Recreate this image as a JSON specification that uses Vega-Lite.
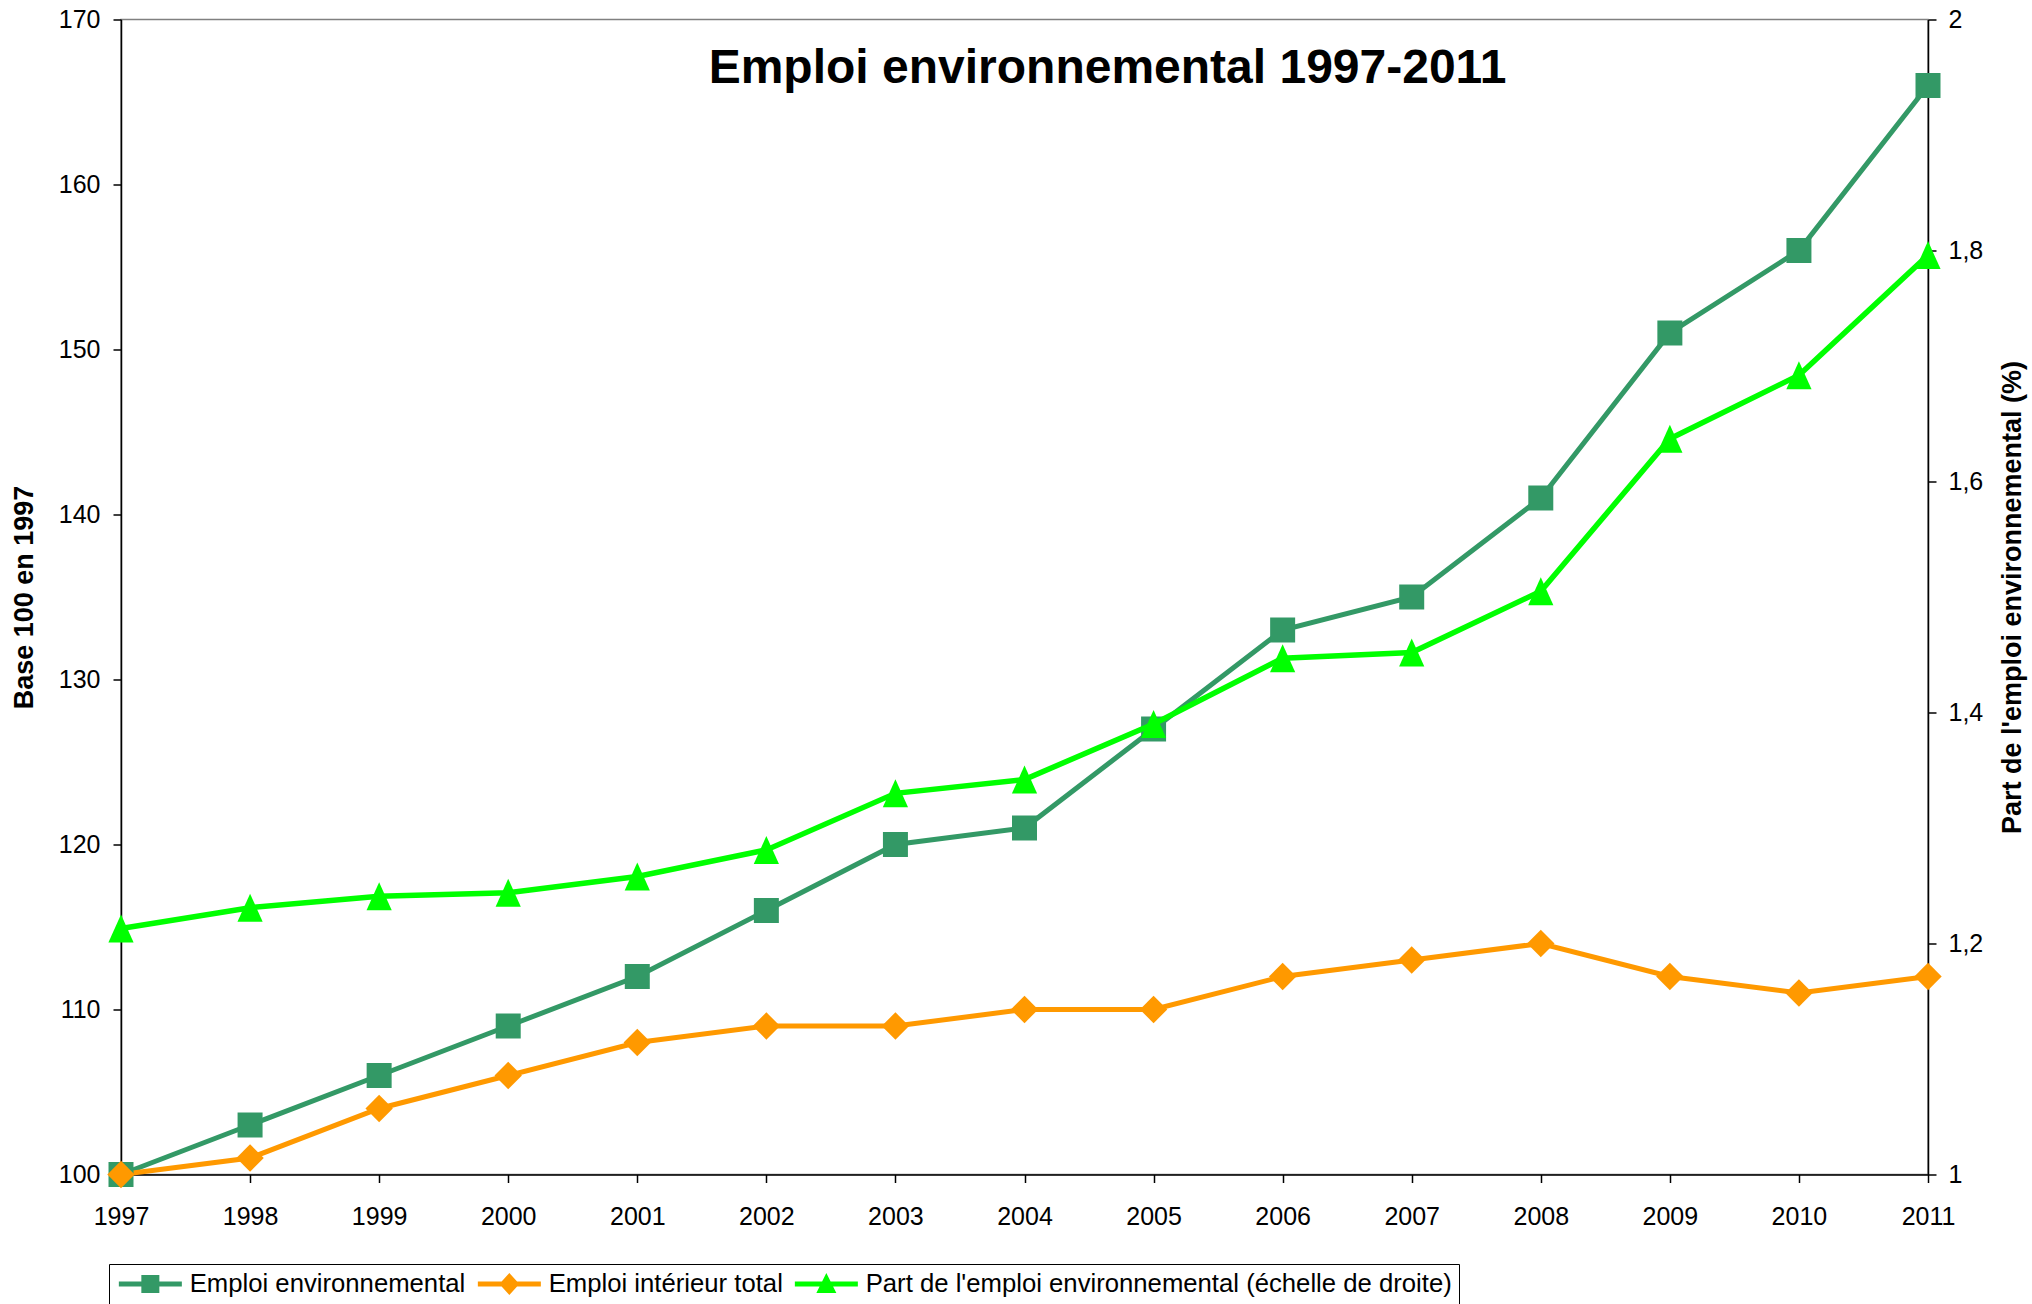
{
  "$schema": "https://vega.github.io/schema/vega-lite/v6.json",
  "width": 1807,
  "height": 1155,
  "autosize": "none",
  "padding": {"left": 121, "top": 19.5, "right": 104, "bottom": 129.5},
  "background": "white",
  "config": {
    "view": {"stroke": "#808080", "strokeWidth": 1.5},
    "font": "Liberation Sans",
    "axis": {
      "labelFont": "Liberation Sans",
      "titleFont": "Liberation Sans",
      "labelColor": "black",
      "titleColor": "black",
      "domainColor": "black",
      "tickColor": "black",
      "domainWidth": 1.5,
      "tickWidth": 1.5,
      "tickSize": 8,
      "labelFontSize": 25,
      "titleFontSize": 27,
      "titleFontWeight": "bold",
      "grid": false
    }
  },
  "title": {
    "text": "Emploi environnemental 1997-2011",
    "font": "Liberation Sans",
    "fontSize": 48,
    "fontWeight": "bold",
    "color": "black",
    "anchor": "middle",
    "frame": "group",
    "baseline": "alphabetic",
    "dx": 83,
    "dy": 47,
    "offset": -76
  },
  "data": {
    "values": [
      {"annee": 1997, "serie": "Emploi environnemental", "valeur": 100},
      {"annee": 1998, "serie": "Emploi environnemental", "valeur": 103},
      {"annee": 1999, "serie": "Emploi environnemental", "valeur": 106},
      {"annee": 2000, "serie": "Emploi environnemental", "valeur": 109},
      {"annee": 2001, "serie": "Emploi environnemental", "valeur": 112},
      {"annee": 2002, "serie": "Emploi environnemental", "valeur": 116},
      {"annee": 2003, "serie": "Emploi environnemental", "valeur": 120},
      {"annee": 2004, "serie": "Emploi environnemental", "valeur": 121},
      {"annee": 2005, "serie": "Emploi environnemental", "valeur": 127},
      {"annee": 2006, "serie": "Emploi environnemental", "valeur": 133},
      {"annee": 2007, "serie": "Emploi environnemental", "valeur": 135},
      {"annee": 2008, "serie": "Emploi environnemental", "valeur": 141},
      {"annee": 2009, "serie": "Emploi environnemental", "valeur": 151},
      {"annee": 2010, "serie": "Emploi environnemental", "valeur": 156},
      {"annee": 2011, "serie": "Emploi environnemental", "valeur": 166},
      {"annee": 1997, "serie": "Emploi intérieur total", "valeur": 100},
      {"annee": 1998, "serie": "Emploi intérieur total", "valeur": 101},
      {"annee": 1999, "serie": "Emploi intérieur total", "valeur": 104},
      {"annee": 2000, "serie": "Emploi intérieur total", "valeur": 106},
      {"annee": 2001, "serie": "Emploi intérieur total", "valeur": 108},
      {"annee": 2002, "serie": "Emploi intérieur total", "valeur": 109},
      {"annee": 2003, "serie": "Emploi intérieur total", "valeur": 109},
      {"annee": 2004, "serie": "Emploi intérieur total", "valeur": 110},
      {"annee": 2005, "serie": "Emploi intérieur total", "valeur": 110},
      {"annee": 2006, "serie": "Emploi intérieur total", "valeur": 112},
      {"annee": 2007, "serie": "Emploi intérieur total", "valeur": 113},
      {"annee": 2008, "serie": "Emploi intérieur total", "valeur": 114},
      {"annee": 2009, "serie": "Emploi intérieur total", "valeur": 112},
      {"annee": 2010, "serie": "Emploi intérieur total", "valeur": 111},
      {"annee": 2011, "serie": "Emploi intérieur total", "valeur": 112},
      {"annee": 1997, "serie": "Part de l'emploi environnemental (échelle de droite)", "valeur": 1.213},
      {"annee": 1998, "serie": "Part de l'emploi environnemental (échelle de droite)", "valeur": 1.231},
      {"annee": 1999, "serie": "Part de l'emploi environnemental (échelle de droite)", "valeur": 1.241},
      {"annee": 2000, "serie": "Part de l'emploi environnemental (échelle de droite)", "valeur": 1.244},
      {"annee": 2001, "serie": "Part de l'emploi environnemental (échelle de droite)", "valeur": 1.258},
      {"annee": 2002, "serie": "Part de l'emploi environnemental (échelle de droite)", "valeur": 1.281},
      {"annee": 2003, "serie": "Part de l'emploi environnemental (échelle de droite)", "valeur": 1.330},
      {"annee": 2004, "serie": "Part de l'emploi environnemental (échelle de droite)", "valeur": 1.342},
      {"annee": 2005, "serie": "Part de l'emploi environnemental (échelle de droite)", "valeur": 1.390},
      {"annee": 2006, "serie": "Part de l'emploi environnemental (échelle de droite)", "valeur": 1.447},
      {"annee": 2007, "serie": "Part de l'emploi environnemental (échelle de droite)", "valeur": 1.452},
      {"annee": 2008, "serie": "Part de l'emploi environnemental (échelle de droite)", "valeur": 1.505},
      {"annee": 2009, "serie": "Part de l'emploi environnemental (échelle de droite)", "valeur": 1.637},
      {"annee": 2010, "serie": "Part de l'emploi environnemental (échelle de droite)", "valeur": 1.692},
      {"annee": 2011, "serie": "Part de l'emploi environnemental (échelle de droite)", "valeur": 1.796}
    ]
  },
  "encoding": {
    "x": {
      "field": "annee",
      "type": "quantitative",
      "scale": {"domain": [1997, 2011], "nice": false, "zero": false},
      "axis": {
        "title": null,
        "values": [1997, 1998, 1999, 2000, 2001, 2002, 2003, 2004, 2005, 2006, 2007, 2008, 2009, 2010, 2011],
        "format": "d",
        "labelPadding": 22,
        "labelFlush": false,
        "labelOverlap": false
      }
    }
  },
  "layer": [
    {
      "transform": [{"filter": {"not": {"field": "serie", "equal": "Part de l'emploi environnemental (échelle de droite)"}}}],
      "encoding": {
        "y": {
          "field": "valeur",
          "type": "quantitative",
          "scale": {"domain": [100, 170], "nice": false, "zero": false},
          "axis": {
            "title": "Base 100 en 1997",
            "values": [100, 110, 120, 130, 140, 150, 160, 170],
            "labelPadding": 13,
            "titlePadding": 20
          }
        }
      },
      "layer": [
        {
          "mark": {"type": "line", "strokeWidth": 5},
          "encoding": {
            "color": {
              "field": "serie",
              "type": "nominal",
              "scale": {
                "domain": ["Emploi environnemental", "Emploi intérieur total", "Part de l'emploi environnemental (échelle de droite)"],
                "range": ["#339966", "#FF9900", "#00FF00"]
              },
              "legend": {
                "title": null,
                "orient": "none",
                "direction": "horizontal",
                "columns": 3,
                "legendX": -12,
                "legendY": 1244.5,
                "padding": 7,
                "strokeColor": "black",
                "fillColor": "white",
                "labelFont": "Liberation Sans",
                "labelFontSize": 25.7,
                "labelColor": "black",
                "labelLimit": 1000,
                "symbolSize": 400,
                "symbolStrokeWidth": 0,
                "labelOffset": 48,
                "columnPadding": 9,
                "encode": {
                  "symbols": {
                    "update": {
                      "shape": {"signal": "datum.value === 'Emploi environnemental' ? 'M-1,-0.25H1.25V-0.9H3.05V-0.25H5.3V0.25H3.05V0.9H1.25V0.25H-1Z' : datum.value === 'Emploi intérieur total' ? 'M-1,-0.25H1.377L2.15,-1.1L2.923,-0.25H5.3V0.25H2.923L2.15,1.1L1.377,0.25H-1Z' : 'M-1,-0.25H1.725L2.15,-1.1L2.575,-0.25H5.3V0.25H2.825L3.15,0.9H1.15L1.475,0.25H-1Z'"},
                      "fill": {"signal": "datum.value === 'Emploi environnemental' ? '#339966' : datum.value === 'Emploi intérieur total' ? '#FF9900' : '#00FF00'"},
                      "stroke": {"value": "transparent"},
                      "strokeWidth": {"value": 0},
                      "opacity": {"value": 1}
                    }
                  }
                }
              }
            }
          }
        },
        {
          "transform": [{"filter": {"field": "serie", "equal": "Emploi environnemental"}}],
          "mark": {"type": "point", "shape": "square", "filled": true, "size": 625, "opacity": 1, "color": "#339966"}
        },
        {
          "transform": [{"filter": {"field": "serie", "equal": "Emploi intérieur total"}}],
          "mark": {"type": "point", "shape": "diamond", "filled": true, "size": 750, "opacity": 1, "color": "#FF9900"}
        }
      ]
    },
    {
      "transform": [{"filter": {"field": "serie", "equal": "Part de l'emploi environnemental (échelle de droite)"}}],
      "encoding": {
        "y": {
          "field": "valeur",
          "type": "quantitative",
          "scale": {"domain": [1, 2], "nice": false, "zero": false},
          "axis": {
            "orient": "right",
            "title": "Part de l'emploi environnemental (%)",
            "values": [1, 1.2, 1.4, 1.6, 1.8, 2],
            "labelExpr": "replace(format(datum.value, '.1~f'), '.', ',')",
            "labelPadding": 12,
            "titlePadding": 17,
            "titleAngle": -90,
            "titleBaseline": "top"
          }
        }
      },
      "layer": [
        {
          "mark": {"type": "line", "strokeWidth": 5.5, "color": "#00FF00"},
          "encoding": {}
        },
        {
          "mark": {"type": "point", "shape": "M0,-1L0.9,1L-0.9,1Z", "filled": true, "size": 784, "opacity": 1, "color": "#00FF00"}
        }
      ]
    }
  ],
  "resolve": {"scale": {"y": "independent"}}
}
